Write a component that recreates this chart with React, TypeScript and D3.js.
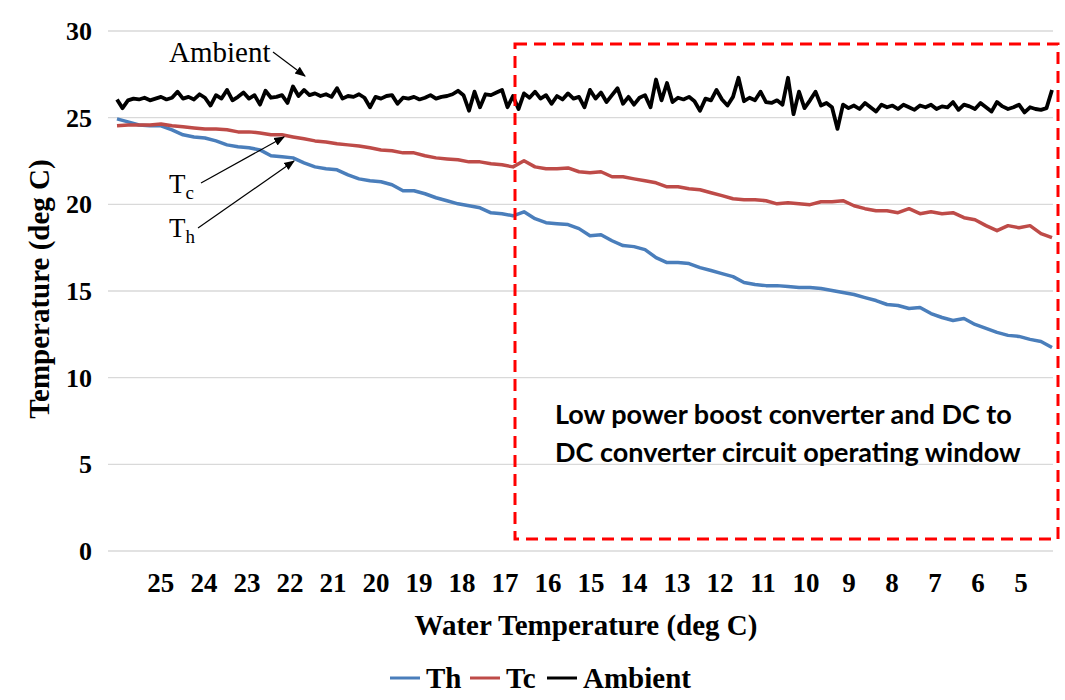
import React from "react";
import * as d3 from "d3";

// Water temperature axis (deg C) – tick labels
const waterTicks = [25, 24, 23, 22, 21, 20, 19, 18, 17, 16, 15, 14, 13, 12, 11, 10, 9, 8, 7, 6, 5];
const yTicks = [0, 5, 10, 15, 20, 25, 30];
// first and last sample position on the water temperature axis
const waterStart = 26.02;
const waterEnd = 4.28;

// Th – hot side temperature (deg C)
const thValues = [
  24.93, 24.76, 24.58, 24.53, 24.53, 24.3, 24.01, 23.89, 23.83, 23.66,
  23.43, 23.32, 23.26, 23.14, 22.8, 22.74, 22.68, 22.39, 22.16, 22.05,
  21.99, 21.7, 21.47, 21.36, 21.3, 21.13, 20.78, 20.78, 20.61, 20.38,
  20.21, 20.03, 19.92, 19.8, 19.51, 19.46, 19.34, 19.57, 19.17, 18.94,
  18.88, 18.83, 18.6, 18.19, 18.25, 17.9, 17.62, 17.56, 17.39, 16.93,
  16.64, 16.64, 16.58, 16.35, 16.18, 16.0, 15.83, 15.49, 15.37, 15.31,
  15.31, 15.26, 15.2, 15.2, 15.14, 15.03, 14.91, 14.8, 14.62, 14.45,
  14.22, 14.16, 13.99, 14.05, 13.7, 13.47, 13.3, 13.41, 13.07, 12.84,
  12.61, 12.44, 12.38, 12.21, 12.09, 11.74,
];

// Tc – cold side temperature (deg C)
const tcValues = [
  24.53, 24.58, 24.58, 24.58, 24.64, 24.53, 24.47, 24.41, 24.35, 24.35,
  24.3, 24.18, 24.18, 24.12, 24.01, 24.01, 23.89, 23.78, 23.66, 23.6,
  23.49, 23.43, 23.37, 23.26, 23.14, 23.09, 22.97, 22.97, 22.8, 22.68,
  22.62, 22.57, 22.45, 22.45, 22.34, 22.28, 22.16, 22.51, 22.16, 22.05,
  22.05, 22.1, 21.88, 21.82, 21.88, 21.59, 21.59, 21.47, 21.36, 21.24,
  21.01, 21.01, 20.9, 20.84, 20.67, 20.5, 20.32, 20.26, 20.26, 20.21,
  20.03, 20.09, 20.03, 19.98, 20.15, 20.15, 20.21, 19.92, 19.75, 19.63,
  19.63, 19.52, 19.75, 19.46, 19.57, 19.46, 19.52, 19.23, 19.11, 18.77,
  18.48, 18.77, 18.65, 18.77, 18.31, 18.08,
];

// Ambient temperature (deg C)
const ambientValues = [
  26.05, 25.55, 26.0, 26.1, 26.05, 26.15, 26.0, 26.1, 26.2, 26.05,
  26.15, 26.5, 26.1, 26.2, 26.05, 26.35, 26.15, 25.7, 26.3, 26.1,
  26.6, 26.0, 26.2, 26.45, 26.1, 26.3, 25.75, 26.55, 26.15, 26.2,
  26.3, 25.85, 26.8, 26.25, 26.6, 26.3, 26.4, 26.25, 26.35, 26.2,
  26.7, 26.1, 26.25, 26.2, 26.35, 26.15, 25.6, 26.2, 26.1, 26.25,
  26.3, 25.8, 26.15, 26.1, 26.2, 26.05, 26.15, 26.3, 26.1, 26.2,
  26.25, 26.35, 26.55, 26.3, 25.4, 26.5, 25.6, 26.35, 26.3, 26.45,
  26.6, 25.6, 26.25, 25.5, 26.4, 26.15, 26.5, 26.1, 26.3, 25.8,
  26.25, 26.05, 26.4, 26.1, 26.2, 25.6, 26.6, 26.1, 26.45, 25.9,
  26.3, 26.7, 25.8, 26.2, 25.75, 26.15, 26.3, 25.6, 27.2, 26.0,
  27.0, 25.9, 26.15, 26.05, 26.2, 25.95, 25.4, 26.1, 26.0, 26.6,
  26.05, 25.7, 26.2, 27.3, 25.95, 26.15, 26.0, 26.5, 25.9, 25.85,
  26.0, 25.75, 27.3, 25.2, 26.5, 25.55, 26.0, 26.5, 25.7, 25.85,
  25.6, 24.35, 25.75, 25.55, 25.7, 25.5, 25.85, 25.6, 25.35, 25.75,
  25.6, 25.7, 25.5, 25.75, 25.6, 25.45, 25.7, 25.6, 25.75, 25.5,
  25.65, 25.6, 25.9, 25.45, 25.75, 25.65, 25.5, 25.85, 25.6, 25.35,
  25.9, 25.65, 25.5, 25.6, 25.75, 25.3, 25.6, 25.5, 25.45, 25.55,
  26.6,
];

const seriesNames = ["Th", "Tc", "Ambient"];
const seriesColors = ["#4a7ebb", "#be4b48", "#000000"];
const seriesWidths = [3.5, 3.5, 3.8];

const W = 1065;
const H = 700;
const serif = "'Liberation Serif', 'Times New Roman', serif";
const sans = "Lato, 'Open Sans', sans-serif";

export default function App() {
  const x = d3.scaleLinear().domain([waterStart, waterEnd]).range([117, 1052]);
  const y = d3.scaleLinear().domain([0, 30]).range([551, 31]);

  const mkLine = (vals: number[]) => {
    const idx = d3.scaleLinear().domain([0, vals.length - 1]).range([waterStart, waterEnd]);
    return d3
      .line<number>()
      .x((_, i) => x(idx(i)))
      .y((v) => y(v))(vals) as string;
  };

  const series = [thValues, tcValues, ambientValues];
  const legendX = [390, 470, 547];

  return (
    <svg
      width={W}
      height={H}
      style={{ position: "absolute", left: 0, top: 0, background: "#fff" }}
    >
      <defs>
        <marker id="arr" viewBox="0 0 10 10" refX="9" refY="5" markerWidth="9" markerHeight="9" orient="auto">
          <path d="M0,1 L10,5 L0,9 z" fill="#000" />
        </marker>
      </defs>
      {/* gridlines */}
      {yTicks.map((t) => (
        <line key={t} x1={108} x2={1053} y1={y(t)} y2={y(t)} stroke="#d9d9d9" strokeWidth={1.3} />
      ))}
      {/* y tick labels */}
      {yTicks.map((t) => (
        <text
          key={"yl" + t}
          x={92}
          y={y(t)}
          dy="0.35em"
          textAnchor="end"
          fontFamily={serif}
          fontWeight="bold"
          fontSize={26}
        >
          {t}
        </text>
      ))}
      {/* x tick labels */}
      {waterTicks.map((t) => (
        <text
          key={"xl" + t}
          x={x(t)}
          y={592}
          textAnchor="middle"
          fontFamily={serif}
          fontWeight="bold"
          fontSize={27}
        >
          {t}
        </text>
      ))}
      {/* axis titles */}
      <text
        x={586}
        y={635}
        textAnchor="middle"
        fontFamily={serif}
        fontWeight="bold"
        fontSize={29}
      >
        Water Temperature (deg C)
      </text>
      <text
        transform={`translate(49,${289}) rotate(-90)`}
        textAnchor="middle"
        fontFamily={serif}
        fontWeight="bold"
        fontSize={29}
      >
        Temperature (deg C)
      </text>

      {/* series */}
      {series.map((vals, i) => (
        <path
          key={seriesNames[i]}
          d={mkLine(vals)}
          fill="none"
          stroke={seriesColors[i]}
          strokeWidth={seriesWidths[i]}
          strokeLinejoin="round"
        />
      ))}

      {/* operating window box */}
      <rect
        x={515}
        y={44}
        width={543}
        height={495}
        fill="none"
        stroke="#ff0000"
        strokeWidth={3}
        strokeDasharray="12 7"
      />
      <text x={555} y={424} fontFamily={sans} fontWeight="bold" fontSize={27}>
        Low power boost converter and DC to
      </text>
      <text x={555} y={462} fontFamily={sans} fontWeight="bold" fontSize={27}>
        DC converter circuit operating window
      </text>

      {/* annotations */}
      <text x={169} y={62} fontFamily={serif} fontSize={29}>
        Ambient
      </text>
      <line x1={273} y1={52} x2={305} y2={76} stroke="#000" strokeWidth={1.2} markerEnd="url(#arr)" />
      <text x={169} y={193} fontFamily={serif} fontSize={27}>
        T<tspan fontSize={19} dy={6}>c</tspan>
      </text>
      <line x1={201} y1={183} x2={284} y2={137} stroke="#000" strokeWidth={1.2} markerEnd="url(#arr)" />
      <text x={169} y={237} fontFamily={serif} fontSize={27}>
        T<tspan fontSize={19} dy={6}>h</tspan>
      </text>
      <line x1={198} y1={228} x2={294} y2={161} stroke="#000" strokeWidth={1.2} markerEnd="url(#arr)" />

      {/* legend */}
      {seriesNames.map((n, i) => (
        <g key={"lg" + n}>
          <line
            x1={legendX[i]}
            x2={legendX[i] + 30}
            y1={678}
            y2={678}
            stroke={seriesColors[i]}
            strokeWidth={3}
          />
          <text
            x={legendX[i] + 36}
            y={688}
            fontFamily={serif}
            fontWeight="bold"
            fontSize={29}
          >
            {n}
          </text>
        </g>
      ))}
    </svg>
  );
}
